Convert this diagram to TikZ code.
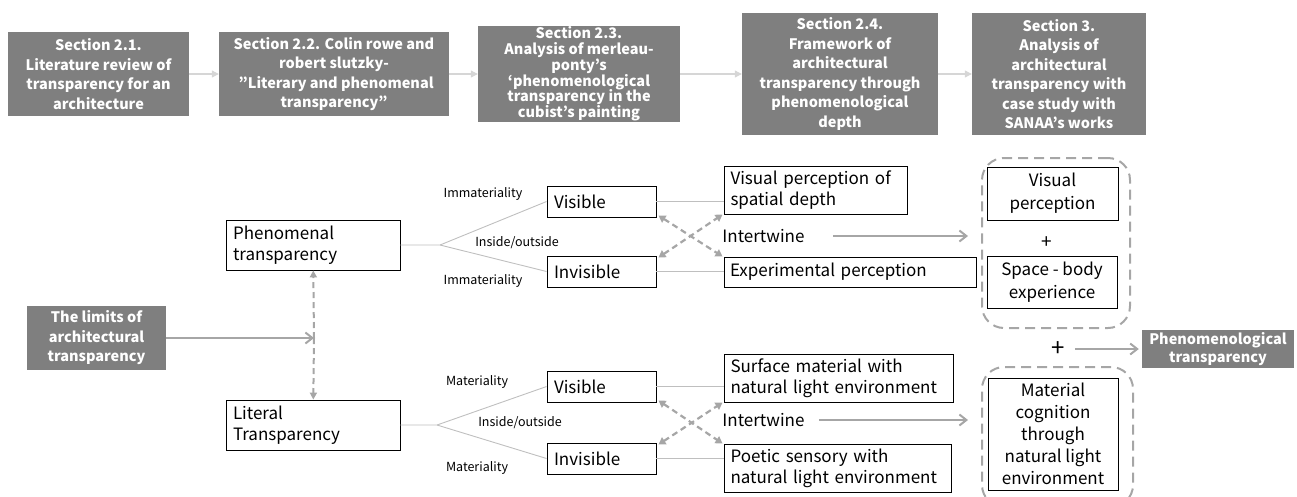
\documentclass[tikz,border=0pt]{standalone}
\usepackage{fontspec}
\setmainfont{Noto Sans CJK KR}
\usetikzlibrary{arrows.meta}
\definecolor{boxgray}{HTML}{7F7F7F}
\definecolor{linegray}{HTML}{BFBFBF}
\definecolor{arrgray}{HTML}{A6A6A6}
\definecolor{toparr}{HTML}{D6D6D6}
\begin{document}
\begin{tikzpicture}[x=1pt,y=-1pt,
  darkbox/.style={fill=boxgray,draw=none,text=white,align=center,inner sep=0pt,
    font=\bfseries\fontsize{14.5}{19.5}\selectfont},
  wbox/.style={draw=black,line width=0.9pt,fill=white,inner sep=0pt,
    font=\fontsize{17}{21}\selectfont},
  lbox/.style={wbox,align=left,text width=#1},
  cbox/.style={wbox,align=center},
  small/.style={font=\fontsize{12.5}{15}\selectfont,inner sep=0pt},
  topline/.style={draw=toparr,line width=1.1pt,-{Triangle[length=7pt,width=7pt]}},
  branch/.style={draw=linegray,line width=0.9pt},
  garrow/.style={draw=arrgray,line width=2pt,-{Straight Barb[length=7pt,width=11pt]}},
  dasharr/.style={draw=arrgray,line width=2.2pt,dash pattern=on 6pt off 4pt,
    {Triangle[length=7pt,width=8pt]}-{Triangle[length=7pt,width=8pt]}},
  grp/.style={draw=arrgray,line width=2pt,dash pattern=on 10pt off 6pt,rounded corners=22pt}
]
\useasboundingbox (0,0) rectangle (1297,496);

% top row
\node[darkbox,minimum width=181pt,minimum height=84pt] (s21) at (98.5,74)
  {Section 2.1.\\Literature review of\\transparency for an\\architecture};
\node[darkbox,minimum width=230pt,minimum height=84pt] (s22) at (334,74)
  {Section 2.2. Colin rowe and\\robert slutzky-\\\hspace*{0.3em}"Literary and phenomenal\\transparency”};
\node[darkbox,minimum width=202pt,minimum height=96pt,font=\bfseries\fontsize{14.5}{15.8}\selectfont] (s23) at (579,74)
  {Section 2.3.\\Analysis of merleau-\\ponty’s\\‘phenomenological\\transparency in the\\cubist’s painting};
\node[darkbox,minimum width=196pt,minimum height=122pt] (s24) at (840,74)
  {Section 2.4.\\Framework of\\architectural\\transparency through\\phenomenological\\depth};
\node[darkbox,minimum width=174pt,minimum height=122pt] (s3) at (1059,74)
  {Section 3.\\Analysis of\\architectural\\transparency with\\case study with\\SANAA’s works};
\draw[topline] (s21) -- (s22);
\draw[topline] (s22) -- (s23);
\draw[topline] (s23) -- (s24);
\draw[topline] (s24) -- (s3);

% left
\node[darkbox,minimum width=139pt,minimum height=64pt] (lim) at (96.5,338)
  {The limits of\\architectural\\transparency};
\node[lbox=160pt,minimum width=174pt,minimum height=50pt] (phen) at (313,245)
  {Phenomenal\\transparency};
\node[lbox=160pt,minimum width=174pt,minimum height=50pt] (lit) at (313,425)
  {Literal\\Transparency};
\coordinate (m) at (314,338);
\draw[garrow] (lim) -- (m);
\draw[draw=arrgray,line width=2pt,dash pattern=on 6pt off 4pt,-{Triangle[length=7pt,width=7pt]}] (m) -- (phen);
\draw[draw=arrgray,line width=2pt,dash pattern=on 6pt off 4pt,-{Triangle[length=7pt,width=7pt]}] (m) -- (lit);

% upper branch
\node[lbox=95pt,minimum width=109pt,minimum height=31pt] (vis1) at (601.5,201.5) {Visible};
\node[lbox=95pt,minimum width=109pt,minimum height=31pt] (inv1) at (601.5,271.5) {Invisible};
\coordinate (j1) at (440,245);
\draw[branch] (phen.east) -- (j1) -- (vis1.west);
\draw[branch] (j1) -- (inv1.west);
\node[small] (im1) at (483,194) {Immateriality};
\node[small] (io1) at (517,243) {Inside/outside};
\node[small] (im2) at (483,281) {Immateriality};

\node[lbox=170pt,minimum width=183pt,minimum height=48pt] (vps) at (815.5,190)
  {Visual perception of\\spatial depth};
\node[lbox=240pt,minimum width=252pt,minimum height=30pt] (exp) at (850,272)
  {Experimental perception};
\draw[branch] (vis1.east) -- (vis1.east -| vps.west);
\draw[branch] (inv1.east) -- (inv1.east -| exp.west);
\draw[dasharr] ([xshift=2pt,yshift=2pt]vis1.south east) -- ([xshift=-1pt]exp.north west);
\draw[dasharr] ([xshift=2pt,yshift=-2pt]inv1.north east) -- ([xshift=-1pt]vps.south west);
\node[wbox,draw=none,fill=none,anchor=west] (int1) at (722,236) {Intertwine};

\node[grp,minimum width=148pt,minimum height=170pt] (g1) at (1056,243) {};
\node[cbox,minimum width=131pt,minimum height=53pt,font=\fontsize{17}{23}\selectfont] (vp) at (1052.5,193.5) {Visual\\perception};
\node[wbox,draw=none,fill=none,font=\fontsize{19}{19}\selectfont] (pl1) at (1047,243) {+};
\node[cbox,minimum width=130pt,minimum height=52pt,font=\fontsize{17}{23}\selectfont] (sb) at (1052,282) {Space - body\\experience};
\draw[garrow] ([xshift=28pt]int1.east) -- ([xshift=-13pt]g1.west |- int1.east);

% lower branch
\node[lbox=95pt,minimum width=109pt,minimum height=31pt] (vis2) at (601.5,386.5) {Visible};
\node[lbox=95pt,minimum width=109pt,minimum height=31pt] (inv2) at (601.5,458.5) {Invisible};
\coordinate (j2) at (437,425);
\draw[branch] (lit.east) -- (j2) -- (vis2.west);
\draw[branch] (j2) -- (inv2.west);
\node[small] (ma1) at (477,382) {Materiality};
\node[small] (io2) at (520,423) {Inside/outside};
\node[small] (ma2) at (477,468) {Materiality};

\node[lbox=216pt,minimum width=229pt,minimum height=48pt] (surf) at (838.5,378)
  {Surface material with\\natural light environment};
\node[lbox=214pt,minimum width=227pt,minimum height=48pt] (poet) at (837.5,468)
  {Poetic sensory with\\natural light environment};
\draw[branch] (vis2.east) -- (vis2.east -| surf.west);
\draw[branch] (inv2.east) -- (inv2.east -| poet.west);
\draw[dasharr] ([xshift=2pt,yshift=2pt]vis2.south east) -- ([xshift=-1pt]poet.north west);
\draw[dasharr] ([xshift=2pt,yshift=-2pt]inv2.north east) -- ([xshift=-1pt]surf.south west);
\node[wbox,draw=none,fill=none,anchor=west] (int2) at (722,420) {Intertwine};

\node[grp,minimum width=151pt,minimum height=140pt] (g2) at (1057.5,437) {};
\node[cbox,minimum width=130pt,minimum height=112pt,font=\fontsize{17}{22}\selectfont] (mat) at (1053,434)
  {Material\\cognition\\through\\natural light\\environment};
\draw[garrow] ([xshift=14pt]int2.east) -- ([xshift=-13pt]g2.west |- int2.east);

% result
\node[font=\fontsize{24}{24}\selectfont,inner sep=0pt] (pl2) at (1058,349) {+};
\node[darkbox,minimum width=152pt,minimum height=38pt,font=\bfseries\fontsize{14.5}{18}\selectfont] (pt) at (1218,349)
  {Phenomenological\\transparency};
\draw[garrow] ([xshift=10pt]pl2.east) -- ([xshift=-3pt]pt.west);
\end{tikzpicture}
\end{document}
